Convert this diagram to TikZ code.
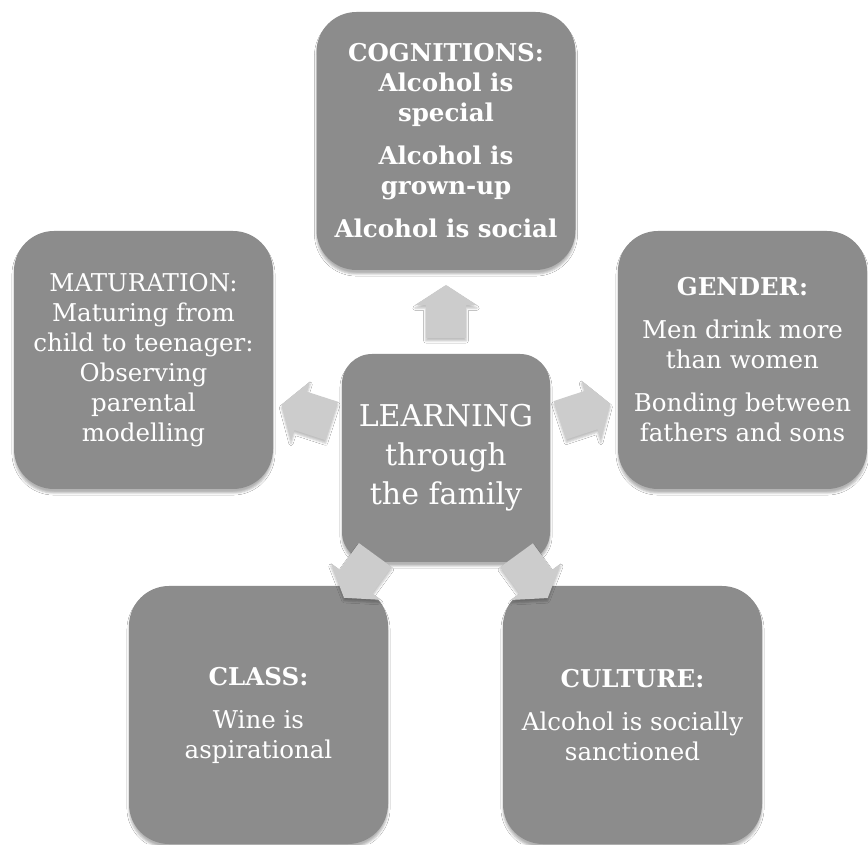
\documentclass[tikz,border=0pt]{standalone}
\usepackage{fontspec}
\setmainfont{DejaVu Serif}
\usetikzlibrary{positioning,calc,shapes.arrows,shadows.blur}
\definecolor{boxgray}{RGB}{140,140,140}
\definecolor{arrowgray}{RGB}{204,204,204}

\begin{document}
\begin{tikzpicture}[x=1pt,y=1pt,on grid]
       \tikzstyle{topic}=[rectangle, rounded corners=40pt, fill=boxgray, text=white, align=center,
              minimum width=259pt, minimum height=258pt, inner sep=0pt,
              font=\fontsize{24.5}{30}\selectfont,
              blur shadow={shadow xshift=0pt, shadow yshift=-4pt, shadow opacity=30}]
       \tikzstyle{hub}=[topic, rounded corners=30pt, minimum width=208pt, minimum height=208pt,
              font=\fontsize{30}{39}\selectfont]
       \tikzstyle{flow}=[single arrow, fill=arrowgray, minimum height=53pt,
              inner xsep=0pt, inner ysep=20pt, single arrow head extend=11pt,
              single arrow tip angle=114,
              blur shadow={shadow xshift=0pt, shadow yshift=-3pt, shadow opacity=25}]

       \fill[white] (0,0) rectangle (868,844);
       \useasboundingbox (0,0) rectangle (868,844);

       \node[hub]   (learn) at (446,386) {LEARNING\\through\\the family};
       \node[topic] (cog) [above=317pt of learn]
              {\textbf{COGNITIONS:}\\\textbf{Alcohol is}\\\textbf{special}\\[13pt]
               \textbf{Alcohol is}\\\textbf{grown-up}\\[13pt]\textbf{Alcohol is social}};
       \node[topic] (mat) [above left=98pt and 302.5pt of learn]
              {MATURATION:\\Maturing from\\child to teenager:\\Observing\\parental\\modelling};
       \node[topic, minimum width=249pt] (gen) [above right=98pt and 296.5pt of learn]
              {\textbf{GENDER:}\\[13pt]Men drink more\\than women\\[13pt]Bonding between\\fathers and sons};
       \node[topic] (cls) [below left=257pt and 187.5pt of learn]
              {\textbf{CLASS:}\\[13pt]Wine is\\aspirational};
       \node[topic] (cul) [below right=257pt and 186.5pt of learn]
              {\textbf{CULTURE:}\\[13pt]Alcohol is socially\\sanctioned};

       % arrows out of the hub
       \node[flow, rotate=90]     (to_cog) at ($(learn)!140pt!(cog)$) {};
       \node[flow, rotate=162]    (to_mat) at ($(learn)!140pt!(mat)$) {};
       \node[flow, rotate=18.3]   (to_gen) at ($(learn)!140pt!(gen)$) {};
       \node[flow, rotate=-126.1] (to_cls) at ($(learn)!140pt!(cls)$) {};
       \node[flow, rotate=-54]    (to_cul) at ($(learn)!140pt!(cul)$) {};
\end{tikzpicture}
\end{document}
